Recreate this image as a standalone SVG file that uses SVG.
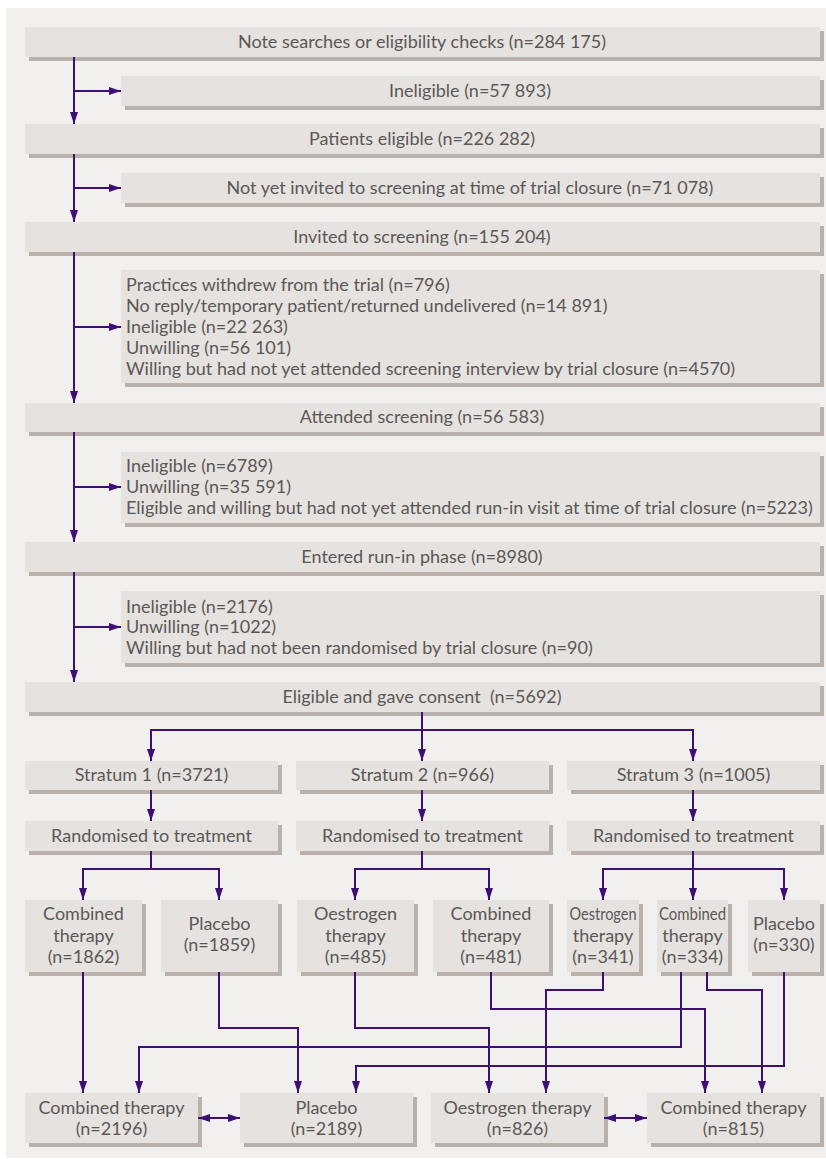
<svg xmlns="http://www.w3.org/2000/svg" width="826" height="1159" viewBox="0 0 826 1159">
<defs>
<style>
.bg{fill:#f1f0ee}
.sh{fill:#b9b1ac}
.bx{fill:#e6e2df}
text{font-family:"Lato","Liberation Sans",sans-serif;font-size:18px;fill:#5a5857}
.c{text-anchor:middle}
.ln{fill:none;stroke:#3d0f72;stroke-width:2}
</style>
<marker id="ah" markerWidth="12" markerHeight="8" refX="12" refY="4" orient="auto" markerUnits="userSpaceOnUse">
<path d="M0,0 L12,4 L0,8 Z" fill="#3d0f72"/>
</marker>
<marker id="ahs" markerWidth="12" markerHeight="8" refX="0" refY="4" orient="auto" markerUnits="userSpaceOnUse">
<path d="M12,0 L0,4 L12,8 Z" fill="#3d0f72"/>
</marker>
</defs>
<rect class="bg" x="6" y="8" width="820" height="1150"/>

<g id="n-search"><rect class="sh" x="29" y="31" width="795" height="30"/><rect class="bx" x="25" y="27" width="795" height="30"/><text class="c" x="422" y="48">Note searches or eligibility checks (n=284 175)</text></g>
<g id="n-inel1"><rect class="sh" x="125" y="80" width="699" height="30"/><rect class="bx" x="121" y="76" width="699" height="30"/><text class="c" x="470" y="97">Ineligible (n=57 893)</text></g>
<g id="n-elig"><rect class="sh" x="29" y="128" width="795" height="30"/><rect class="bx" x="25" y="124" width="795" height="30"/><text class="c" x="422" y="145">Patients eligible (n=226 282)</text></g>
<g id="n-notinv"><rect class="sh" x="125" y="177" width="699" height="30"/><rect class="bx" x="121" y="173" width="699" height="30"/><text class="c" x="470" y="194">Not yet invited to screening at time of trial closure (n=71 078)</text></g>
<g id="n-invited"><rect class="sh" x="29" y="226" width="795" height="30"/><rect class="bx" x="25" y="222" width="795" height="30"/><text class="c" x="422" y="243">Invited to screening (n=155 204)</text></g>
<g id="n-excl1"><rect class="sh" x="125" y="274" width="699" height="113"/><rect class="bx" x="121" y="270" width="699" height="113"/>
<text x="126" y="291">Practices withdrew from the trial (n=796)</text>
<text x="126" y="312">No reply/temporary patient/returned undelivered (n=14 891)</text>
<text x="126" y="333">Ineligible (n=22 263)</text>
<text x="126" y="354">Unwilling (n=56 101)</text>
<text x="126" y="375">Willing but had not yet attended screening interview by trial closure (n=4570)</text></g>
<g id="n-attended"><rect class="sh" x="29" y="407" width="795" height="29"/><rect class="bx" x="25" y="403" width="795" height="29"/><text class="c" x="422" y="423">Attended screening (n=56 583)</text></g>
<g id="n-excl2"><rect class="sh" x="125" y="456" width="699" height="71"/><rect class="bx" x="121" y="452" width="699" height="71"/>
<text x="126" y="472">Ineligible (n=6789)</text>
<text x="126" y="493">Unwilling (n=35 591)</text>
<text x="126" y="514">Eligible and willing but had not yet attended run-in visit at time of trial closure (n=5223)</text></g>
<g id="n-runin"><rect class="sh" x="29" y="546" width="795" height="30"/><rect class="bx" x="25" y="542" width="795" height="30"/><text class="c" x="422" y="563">Entered run-in phase (n=8980)</text></g>
<g id="n-excl3"><rect class="sh" x="125" y="595" width="699" height="72"/><rect class="bx" x="121" y="591" width="699" height="72"/>
<text x="126" y="613">Ineligible (n=2176)</text>
<text x="126" y="633">Unwilling (n=1022)</text>
<text x="126" y="654">Willing but had not been randomised by trial closure (n=90)</text></g>
<g id="n-consent"><rect class="sh" x="29" y="686" width="795" height="30"/><rect class="bx" x="25" y="682" width="795" height="30"/><text class="c" x="422" y="703" xml:space="preserve">Eligible and gave consent  (n=5692)</text></g>

<g id="n-s1"><rect class="sh" x="29" y="765" width="253" height="29"/><rect class="bx" x="25" y="761" width="253" height="29"/><text class="c" x="151.5" y="781">Stratum 1 (n=3721)</text></g>
<g id="n-s2"><rect class="sh" x="300" y="765" width="253" height="29"/><rect class="bx" x="296" y="761" width="253" height="29"/><text class="c" x="422.5" y="781">Stratum 2 (n=966)</text></g>
<g id="n-s3"><rect class="sh" x="571" y="765" width="253" height="29"/><rect class="bx" x="567" y="761" width="253" height="29"/><text class="c" x="693.5" y="781">Stratum 3 (n=1005)</text></g>
<g id="n-r1"><rect class="sh" x="29" y="825" width="253" height="30"/><rect class="bx" x="25" y="821" width="253" height="30"/><text class="c" x="151.5" y="842">Randomised to treatment</text></g>
<g id="n-r2"><rect class="sh" x="300" y="825" width="253" height="30"/><rect class="bx" x="296" y="821" width="253" height="30"/><text class="c" x="422.5" y="842">Randomised to treatment</text></g>
<g id="n-r3"><rect class="sh" x="571" y="825" width="253" height="30"/><rect class="bx" x="567" y="821" width="253" height="30"/><text class="c" x="693.5" y="842">Randomised to treatment</text></g>

<g id="n-t1c"><rect class="sh" x="29" y="904" width="117" height="72"/><rect class="bx" x="25" y="900" width="117" height="72"/><text class="c" x="83.5" y="920">Combined</text><text class="c" x="83.5" y="942">therapy</text><text class="c" x="83.5" y="963">(n=1862)</text></g>
<g id="n-t1p"><rect class="sh" x="165" y="904" width="117" height="72"/><rect class="bx" x="161" y="900" width="117" height="72"/><text class="c" x="219.5" y="930">Placebo</text><text class="c" x="219.5" y="951">(n=1859)</text></g>
<g id="n-t2o"><rect class="sh" x="301" y="904" width="117" height="72"/><rect class="bx" x="297" y="900" width="117" height="72"/><text class="c" x="355.5" y="920">Oestrogen</text><text class="c" x="355.5" y="942">therapy</text><text class="c" x="355.5" y="963">(n=485)</text></g>
<g id="n-t2c"><rect class="sh" x="437" y="904" width="116" height="72"/><rect class="bx" x="433" y="900" width="116" height="72"/><text class="c" x="491" y="920">Combined</text><text class="c" x="491" y="942">therapy</text><text class="c" x="491" y="963">(n=481)</text></g>
<g id="n-t3o"><rect class="sh" x="571" y="904" width="72" height="72"/><rect class="bx" x="567" y="900" width="72" height="72"/><text class="c" x="603" y="920" textLength="67" lengthAdjust="spacingAndGlyphs">Oestrogen</text><text class="c" x="603" y="942">therapy</text><text class="c" x="603" y="963">(n=341)</text></g>
<g id="n-t3c"><rect class="sh" x="661" y="904" width="71" height="72"/><rect class="bx" x="657" y="900" width="71" height="72"/><text class="c" x="692.5" y="920" textLength="67" lengthAdjust="spacingAndGlyphs">Combined</text><text class="c" x="692.5" y="942">therapy</text><text class="c" x="692.5" y="963">(n=334)</text></g>
<g id="n-t3p"><rect class="sh" x="752" y="904" width="72" height="72"/><rect class="bx" x="748" y="900" width="72" height="72"/><text class="c" x="784" y="930">Placebo</text><text class="c" x="784" y="951">(n=330)</text></g>

<g id="n-fc"><rect class="sh" x="29" y="1097" width="173" height="50"/><rect class="bx" x="25" y="1093" width="173" height="50"/><text class="c" x="111.5" y="1114">Combined therapy</text><text class="c" x="111.5" y="1135">(n=2196)</text></g>
<g id="n-fp"><rect class="sh" x="244" y="1097" width="173" height="50"/><rect class="bx" x="240" y="1093" width="173" height="50"/><text class="c" x="326.5" y="1114">Placebo</text><text class="c" x="326.5" y="1135">(n=2189)</text></g>
<g id="n-fo"><rect class="sh" x="435" y="1097" width="173" height="50"/><rect class="bx" x="431" y="1093" width="173" height="50"/><text class="c" x="517.5" y="1114">Oestrogen therapy</text><text class="c" x="517.5" y="1135">(n=826)</text></g>
<g id="n-fc2"><rect class="sh" x="651" y="1097" width="173" height="50"/><rect class="bx" x="647" y="1093" width="173" height="50"/><text class="c" x="733.5" y="1114">Combined therapy</text><text class="c" x="733.5" y="1135">(n=815)</text></g>

<g id="connectors">
<path class="ln" d="M74,57 V124" marker-end="url(#ah)"/>
<path class="ln" d="M74,91 H121" marker-end="url(#ah)"/>
<path class="ln" d="M74,154 V222" marker-end="url(#ah)"/>
<path class="ln" d="M74,188 H121" marker-end="url(#ah)"/>
<path class="ln" d="M74,252 V403" marker-end="url(#ah)"/>
<path class="ln" d="M74,327 H121" marker-end="url(#ah)"/>
<path class="ln" d="M74,432 V542" marker-end="url(#ah)"/>
<path class="ln" d="M74,487 H121" marker-end="url(#ah)"/>
<path class="ln" d="M74,572 V682" marker-end="url(#ah)"/>
<path class="ln" d="M74,627 H121" marker-end="url(#ah)"/>
<path class="ln" d="M422,712 V730"/>
<path class="ln" d="M151,761 V730 H693 V761" marker-start="url(#ahs)" marker-end="url(#ah)"/>
<path class="ln" d="M422,730 V761" marker-end="url(#ah)"/>
<path class="ln" d="M151,790 V821" marker-end="url(#ah)"/>
<path class="ln" d="M422,790 V821" marker-end="url(#ah)"/>
<path class="ln" d="M693,790 V821" marker-end="url(#ah)"/>
<path class="ln" d="M151,851 V869"/>
<path class="ln" d="M83,900 V869 H219 V900" marker-start="url(#ahs)" marker-end="url(#ah)"/>
<path class="ln" d="M422,851 V869"/>
<path class="ln" d="M355,900 V869 H489 V900" marker-start="url(#ahs)" marker-end="url(#ah)"/>
<path class="ln" d="M693,851 V900" marker-end="url(#ah)"/>
<path class="ln" d="M603,900 V869 H784 V900" marker-start="url(#ahs)" marker-end="url(#ah)"/>
<path class="ln" d="M83,972 V1093" marker-end="url(#ah)"/>
<path class="ln" d="M219,972 V1028 H298 V1093" marker-end="url(#ah)"/>
<path class="ln" d="M355,972 V1028 H489 V1093" marker-end="url(#ah)"/>
<path class="ln" d="M491,972 V1009 H705 V1093" marker-end="url(#ah)"/>
<path class="ln" d="M603,972 V990 H546 V1093" marker-end="url(#ah)"/>
<path class="ln" d="M681,972 V1047 H139 V1093" marker-end="url(#ah)"/>
<path class="ln" d="M707,972 V990 H762 V1093" marker-end="url(#ah)"/>
<path class="ln" d="M784,972 V1066 H356 V1093" marker-end="url(#ah)"/>
<path class="ln" d="M198,1118 H240" marker-start="url(#ahs)" marker-end="url(#ah)"/>
<path class="ln" d="M604,1118 H647" marker-start="url(#ahs)" marker-end="url(#ah)"/>
</g>
</svg>
